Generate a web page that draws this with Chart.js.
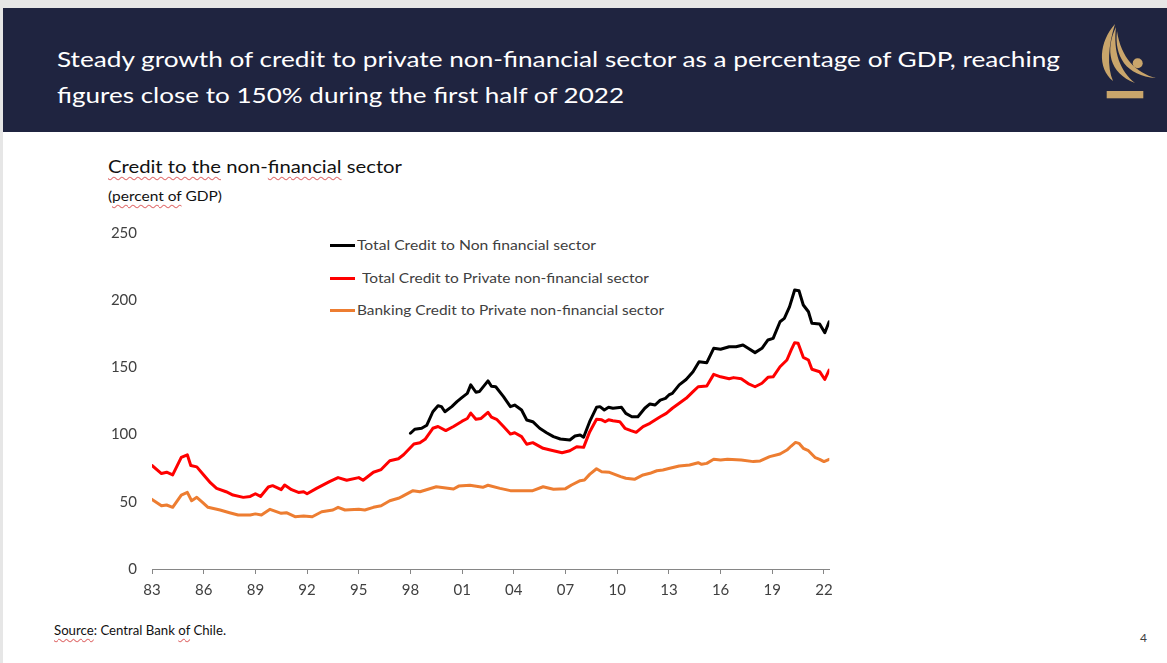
<!DOCTYPE html>
<html><head><meta charset="utf-8">
<script src="https://cdn.jsdelivr.net/npm/chart.js@4.4.0/dist/chart.umd.min.js"></script>
<style>
html,body{margin:0;padding:0;}
body{width:1167px;height:663px;position:relative;overflow:hidden;background:#fff;font-family:Lato, sans-serif;}
#topband{position:absolute;left:0;top:0;width:1167px;height:8px;background:#e6e6e6;}
#leftband{position:absolute;left:0;top:0;width:3px;height:663px;background:#e6e6e6;}
#header{position:absolute;left:3px;top:8px;width:1164px;height:124px;background:#1f2440;}
.t{position:absolute;white-space:nowrap;line-height:1;transform-origin:0 50%;}
.h{color:#fff;font-size:21px;}
.wavy{text-decoration:underline wavy #e07070;text-decoration-thickness:1px;text-underline-offset:3px;}
.leg{color:#404040;font-size:14px;}
.lline{position:absolute;width:25px;height:3px;}
#c{position:absolute;left:0;top:0;}
</style></head>
<body>
<div id="topband"></div>
<div id="leftband"></div>
<div id="header"></div>
<div class="t h" data-w="1003" style="left:57px;top:48px;">Steady growth of credit to private non-financial sector as a percentage of GDP, reaching</div>
<div class="t h" data-w="567" style="left:57px;top:84px;">figures close to 150% during the first half of 2022</div>
<svg style="position:absolute;left:1080px;top:10px;" width="87" height="110" viewBox="0 0 87 110">
  <g fill="#c9a56b">
    <path d="M35,14 C19,32 17,58 33,71 C27,57 28,36 35,14 Z"/>
    <path d="M36,17 C25,40 29,63 55,73 C40,61 33,42 36,17 Z"/>
    <path d="M37,21 C34,46 46,66 76,68 C56,63 41,48 37,21 Z"/>
  </g>
  <circle cx="57.7" cy="53.3" r="5" fill="#c9a56b"/>
  <rect x="26.7" y="81" width="36.6" height="7.3" fill="#c9a56b"/>
</svg>

<div class="t" data-w="294" style="left:108px;top:157px;font-size:18px;color:#111;"><span class="wavy">Credit to the</span> non-<span class="wavy">financial</span> sector</div>
<div class="t" data-w="114" style="left:108px;top:189px;font-size:14px;color:#111;">(<span class="wavy">percent of</span> GDP)</div>

<div class="lline" style="left:330px;top:244px;background:#000;"></div>
<div class="t leg" data-w="239" style="left:357px;top:238px;">Total Credit to Non financial sector</div>
<div class="lline" style="left:330px;top:277px;background:#ff0000;"></div>
<div class="t leg" data-w="287" style="left:362px;top:271px;">Total Credit to Private non-financial sector</div>
<div class="lline" style="left:330px;top:309px;background:#ed7d31;"></div>
<div class="t leg" data-w="307" style="left:357px;top:303px;">Banking Credit to Private non-financial sector</div>

<div class="t" data-w="172" style="left:54px;top:624px;font-size:13px;color:#111;"><span class="wavy">Source</span>: Central Bank <span class="wavy">of</span> Chile.</div>
<div class="t" style="left:1140px;top:632px;font-size:12px;color:#404040;">4</div>

<canvas id="c" width="1167" height="663"></canvas>
<script>
// ---- data (decimal years, % of GDP) ----
const totalYears = [1998.0,1998.25,1998.65,1998.95,1999.3,1999.6,1999.8,2000.0,2000.4,2000.7,2001.0,2001.3,2001.5,2001.8,2002.0,2002.5,2002.7,2002.95,2003.4,2003.8,2004.05,2004.45,2004.75,2005.1,2005.5,2005.9,2006.3,2006.7,2007.25,2007.55,2007.85,2008.05,2008.4,2008.8,2009.0,2009.25,2009.5,2009.75,2010.25,2010.5,2010.85,2011.2,2011.6,2011.9,2012.2,2012.5,2012.8,2013.0,2013.2,2013.6,2014.0,2014.4,2014.75,2015.2,2015.6,2016.0,2016.5,2016.9,2017.3,2017.6,2018.0,2018.4,2018.75,2019.05,2019.45,2019.7,2020.0,2020.3,2020.55,2020.8,2021.1,2021.3,2021.75,2022.05,2022.3];
const totalValues = [101,104,104.7,107,117,121.5,120.8,117,120.8,124.5,127.7,130.7,137,131.5,132,140,136,135.6,128.2,120.8,122,118.3,110.9,109.6,104.7,101.4,98.5,96.7,96,99,99.7,98,109.6,120.3,120.8,118.3,120.3,119.6,120.3,115.8,113.3,113.3,119.6,122.8,122,125.7,127,129.5,130.7,137,141,146.8,154.2,153.5,164.2,163.5,165.4,165.4,166.7,164.2,161,164.2,170.4,171.6,184,186.5,195,207.6,207,196.4,191.4,182.8,182.3,175.8,184];

const privateYears = [1983.0,1983.55,1983.85,1984.2,1984.7,1985.05,1985.25,1985.6,1986.0,1986.4,1986.75,1987.3,1987.7,1988.3,1988.7,1989.0,1989.3,1989.75,1990.0,1990.5,1990.7,1991.1,1991.5,1991.8,1992.0,1992.55,1993.3,1993.8,1994.3,1995.0,1995.25,1995.85,1996.3,1996.8,1997.3,1997.6,1998.2,1998.55,1998.85,1999.3,1999.6,2000.05,2000.5,2001.0,2001.3,2001.5,2001.8,2002.1,2002.5,2002.7,2003.0,2003.4,2003.8,2004.05,2004.45,2004.75,2005.1,2005.7,2006.3,2006.8,2007.25,2007.65,2008.05,2008.4,2008.8,2009.1,2009.3,2009.5,2009.75,2010.15,2010.45,2010.8,2011.1,2011.5,2011.9,2012.2,2012.5,2012.85,2013.2,2013.6,2014.0,2014.4,2014.7,2015.2,2015.6,2016.0,2016.5,2016.75,2017.2,2017.6,2018.0,2018.4,2018.75,2019.05,2019.45,2019.85,2020.1,2020.3,2020.5,2020.8,2021.1,2021.3,2021.75,2022.05,2022.3];
const privateValues = [77,71,72,70,83,85,77,76,70,64,60,57.5,55,53.3,54,56,54,61,62,59,62.5,59,57,57.5,56,60,65,68,66,68,66,72,74,80.5,82,85,93,94,96.5,104.7,106,103,106,110,112,116,111.4,112,116.6,113,111.4,106,100.4,101.4,98.5,92.8,94,89.8,88,86.5,88,91,90.5,102,111.4,111,109.6,111,110.3,109.6,104.7,103,101.7,106,108.4,110.9,113.3,115.8,119.6,123.3,127,132,135.6,136.2,144.8,143,141.6,142.4,141.6,138,135.6,138.2,142.6,143,150.5,155.5,163,168.4,168,157.5,155.5,148.6,146.8,141,148];

const bankYears = [1983.0,1983.55,1983.85,1984.2,1984.7,1985.05,1985.3,1985.6,1985.9,1986.25,1986.95,1987.5,1988.0,1988.7,1989.0,1989.35,1989.85,1990.5,1990.8,1991.3,1991.8,1992.3,1992.85,1993.5,1993.8,1994.2,1995.0,1995.35,1995.85,1996.3,1996.8,1997.3,1997.5,1998.15,1998.55,1999.5,2000.5,2000.8,2001.45,2002.2,2002.5,2003.2,2003.8,2005.1,2005.7,2006.3,2007.0,2007.35,2007.85,2008.1,2008.4,2008.8,2009.1,2009.55,2010.2,2010.5,2011.0,2011.5,2011.9,2012.3,2012.65,2013.05,2013.6,2014.2,2014.7,2014.9,2015.2,2015.6,2016.0,2016.4,2017.2,2017.9,2018.3,2018.85,2019.45,2019.85,2020.1,2020.35,2020.55,2020.8,2021.1,2021.5,2021.75,2022.0,2022.3];
const bankValues = [51.8,47,47.6,45.9,55,57,50.8,53.3,50,45.9,43.9,41.9,40.2,40.2,41,40.2,44.4,41.4,41.9,38.9,39.4,38.9,42.6,43.9,45.9,43.9,44.4,43.9,45.9,47.1,50.8,52.6,53.8,58.3,57.5,61.2,59.5,61.7,62.3,60.8,62.3,60,58.3,58.3,61.2,59.3,59.8,62.5,65.7,66.2,70.4,74.6,72.4,71.9,68.7,67.5,66.7,70,71.2,73.1,73.7,74.9,76.6,77.4,79.1,77.9,78.6,81.6,81.1,81.6,81.1,79.9,80.4,83.6,85.6,88.5,91.5,94.2,93.5,89.8,88,82.8,81.6,79.9,81.6];

const seriesNames = ['Total Credit to Non financial sector','Total Credit to Private non-financial sector','Banking Credit to Private non-financial sector'];
const tickYears = [1983,1986,1989,1992,1995,1998,2001,2004,2007,2010,2013,2016,2019,2022];
const tickLabels = ['83','86','89','92','95','98','01','04','07','10','13','16','19','22'];
const yTicks = [0,50,100,150,200,250];

const pts = (xs, ys) => xs.map((x, i) => ({x: x, y: ys[i]}));
const mk = (label, data, color) => ({label, data, borderColor: color, backgroundColor: color, borderWidth: 3, pointRadius: 0, tension: 0, fill: false, borderJoinStyle: 'round', borderCapStyle: 'round'});

const tickFont = {family: 'Lato', size: 15};
new Chart(document.getElementById('c'), {
  type: 'line',
  data: {datasets: [
    mk(seriesNames[0], pts(totalYears, totalValues), '#000000'),
    mk(seriesNames[1], pts(privateYears, privateValues), '#ff0000'),
    mk(seriesNames[2], pts(bankYears, bankValues), '#ed7d31')
  ]},
  options: {
    responsive: false, animation: false,
    layout: {padding: {left: 102, top: 233, right: 337.7, bottom: 54}},
    plugins: {legend: {display: false}, tooltip: {enabled: false}},
    scales: {
      x: {
        type: 'linear', min: 1983, max: 2022.31,
        afterBuildTicks: s => { s.ticks = tickYears.map(v => ({value: v})); },
        afterFit: s => { s.height = 40; },
        grid: {display: true, drawOnChartArea: false, drawTicks: true, tickLength: 5, color: '#868686'},
        border: {display: true, color: '#868686', width: 1},
        ticks: {autoSkip: false, maxRotation: 0, padding: 7, color: '#404040', font: tickFont,
          callback: v => tickLabels[tickYears.indexOf(v)]}
      },
      y: {
        min: 0, max: 250,
        afterBuildTicks: s => { s.ticks = yTicks.map(v => ({value: v})); },
        afterFit: s => { s.width = 50; },
        grid: {display: false, drawTicks: false, tickLength: 0},
        border: {display: false},
        ticks: {padding: 15, color: '#404040', font: tickFont}
      }
    }
  }
});

function fit() {
  document.querySelectorAll('[data-w]').forEach(el => {
    el.style.transform = 'none';
    const w = el.getBoundingClientRect().width;
    const target = parseFloat(el.getAttribute('data-w'));
    if (w > 0) el.style.transform = 'scaleX(' + (target / w) + ')';
  });
}
fit();
if (document.fonts && document.fonts.ready) document.fonts.ready.then(fit);
</script>
</body></html>
